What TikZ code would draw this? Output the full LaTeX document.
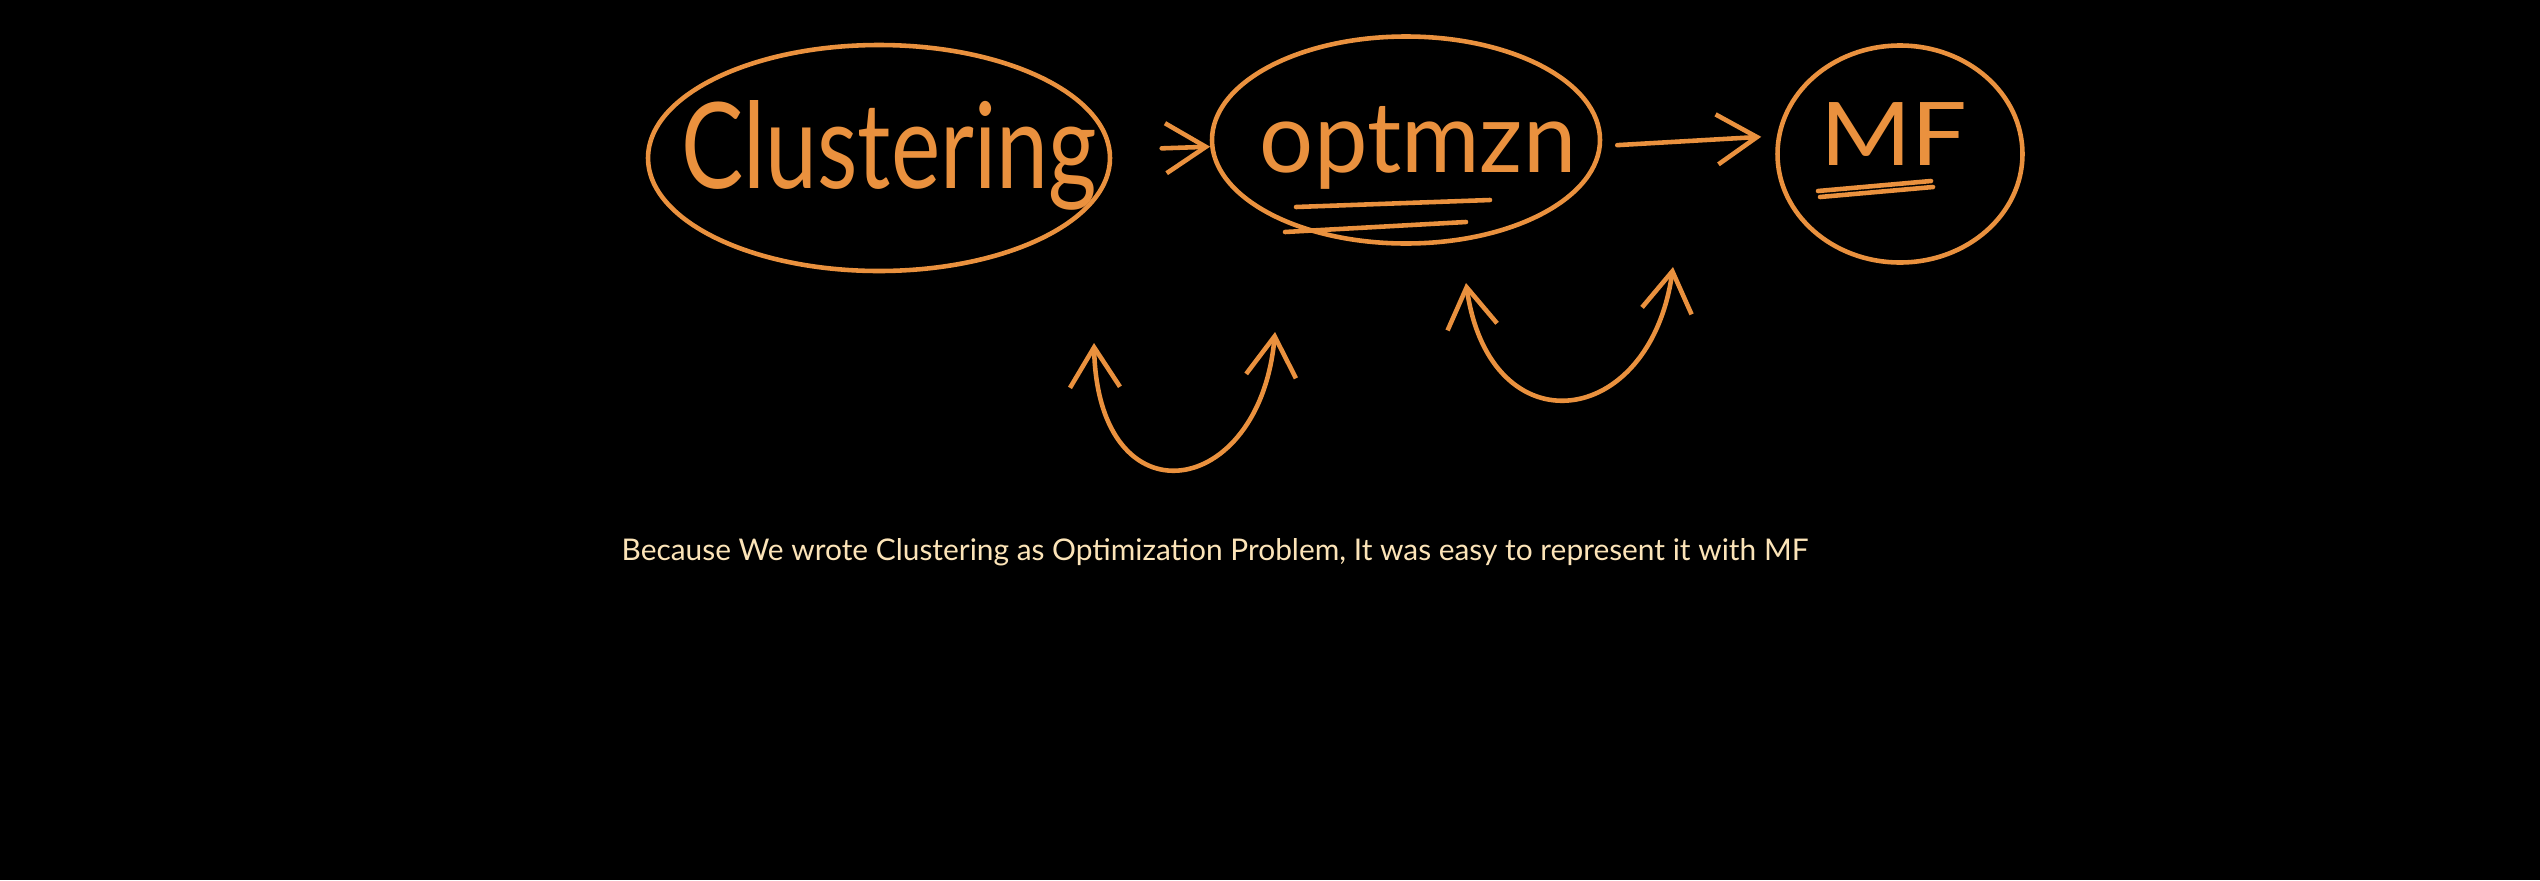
\documentclass[tikz,border=0pt]{standalone}
\usepackage{fontspec}
\usepackage{graphicx}
\setmainfont{Lato}
\usepackage{tikz}
\usetikzlibrary{shapes.geometric,arrows.meta}

\definecolor{pen}{RGB}{234,145,62}
\definecolor{note}{RGB}{252,228,184}

\tikzset{
	ink/.style={draw=pen, line width=1.3pt, line cap=round},
	bubble/.style={ink, ellipse, inner sep=0pt},
	hand/.style={text=pen, inner sep=0pt, font=\fontsize{34}{40}\selectfont},
	barb/.style={ink, -{Straight Barb[length=4mm,width=5mm]}},
	twobarb/.style={ink, {Straight Barb[length=4mm,width=5mm]}-{Straight Barb[length=4mm,width=5mm]}},
}

\begin{document}
\begin{tikzpicture}
	\fill[black] (0,0) rectangle (25.4,-8.8);
	
	\node[bubble, minimum width=4.62cm, minimum height=2.26cm] (clust) at (8.79,-1.58) {};
	\node[bubble, minimum width=3.88cm, minimum height=2.07cm] (opt) at (14.06,-1.40) {};
	\node[bubble, minimum width=2.45cm, minimum height=2.17cm] (mf) at (19.00,-1.54) {};
	
	\node[hand] (clusttext) at (8.89,-1.55) {\scalebox{0.78}[1]{Clustering}};
	\node[hand, font=\fontsize{28}{34}\selectfont] (opttext) at (14.18,-1.48) {\scalebox{0.97}[1]{optmzn}};
	\node[hand, font=\fontsize{25}{30}\selectfont] (mftext) at (18.94,-1.34) {\scalebox{1.12}[1]{MF}};
	
	\draw[barb, shorten <=5mm] (clust) -- (opt);
	\draw[barb, shorten <=1.5mm, shorten >=1.4mm] ([yshift=-0.6mm]opt.east) -- ([yshift=1.8mm]mf.west);
	
	% underlines
	\draw[ink] (12.96,-2.07) -- (14.90,-2.00);
	\draw[ink] (12.85,-2.32) -- (14.66,-2.22);
	\draw[ink] (18.18,-1.91) -- (19.31,-1.81);
	\draw[ink] (18.20,-1.97) -- (19.33,-1.87);
	
	% loops below
	\coordinate (u1a) at (10.94,-3.43);
	\coordinate (u1b) at (12.75,-3.32);
	\coordinate (u2a) at (14.66,-2.83);
	\coordinate (u2b) at (16.73,-2.67);
	\draw[twobarb] (u1a) .. controls (10.98,-5.25) and (12.60,-5.00) .. (u1b);
	\draw[twobarb] (u2a) .. controls (14.90,-4.50) and (16.50,-4.30) .. (u2b);
	
	\node[text=note, font=\fontsize{8.5}{10}\selectfont] (caption) at (12.15,-5.52) {Because We wrote Clustering as Optimization Problem, It was easy to represent it with MF};
\end{tikzpicture}
\end{document}
